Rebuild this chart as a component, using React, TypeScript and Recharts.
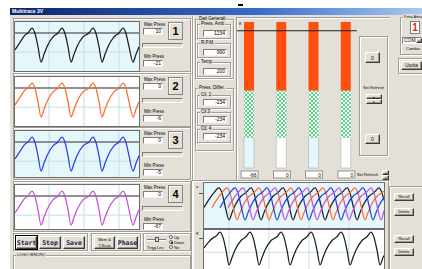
import React from "react";
import { LineChart, Line, XAxis, YAxis, ReferenceLine, BarChart, Bar, Cell } from "recharts";

type Pt = [number, number];

// cylinder trace shown in the four left panels: [position, pressure]
const cylTrace: Pt[] = [
  [0, -10], [5, -3], [10, 3.5], [13, 5.5], [17, 10], [20, 5], [23, -7], [26, -21],
  [29, -14], [32, -7], [38, 2], [43, 5.5], [47, 10], [50, 5], [53, -7], [56, -21],
  [59, -14], [62, -7], [68, 2], [74, 5.5], [78, 10], [81, 5], [84, -7], [87, -21],
  [90, -14], [93, -7], [99, 2], [104, 5.5], [108, 10], [111, 5], [114, -7], [118, -21],
  [121, -14], [124, -7],
];

// overlay traces (bottom right, upper plot), one per cylinder
const ovlCil1: Pt[] = [
  [0, -9], [5, -1], [10, 5.5], [15, 10], [18, 5], [21, -7], [25, -21],
  [28, -14], [31, -7], [37, 2], [42, 5.5], [47, 10], [50, 5], [53, -7], [57, -21],
  [60, -14], [63, -7], [69, 2], [74, 5.5], [79, 10], [82, 5], [85, -7], [89, -21],
  [92, -14], [95, -7], [101, 2], [106, 5.5], [111, 10], [114, 5], [117, -7], [121, -21],
  [124, -14], [127, -7], [133, 2], [138, 5.5], [143, 10], [146, 5], [149, -7], [153, -21],
  [156, -14], [159, -7], [165, 2], [170, 5.5], [175, 10], [178, 5], [180, -2],
];
const ovlCil2: Pt[] = [
  [8, -9], [13, -1], [18, 5.5], [23, 10], [26, 5], [29, -7], [33, -21],
  [36, -14], [39, -7], [45, 2], [50, 5.5], [55, 10], [58, 5], [61, -7], [65, -21],
  [68, -14], [71, -7], [77, 2], [82, 5.5], [87, 10], [90, 5], [93, -7], [97, -21],
  [100, -14], [103, -7], [109, 2], [114, 5.5], [119, 10], [122, 5], [125, -7], [129, -21],
  [132, -14], [135, -7], [141, 2], [146, 5.5], [151, 10], [154, 5], [157, -7], [161, -21],
  [164, -14], [167, -7], [173, 2], [178, 5.5], [180, 7],
];
const ovlCil3: Pt[] = [
  [16, -9], [21, -1], [26, 5.5], [31, 10], [34, 5], [37, -7], [41, -21],
  [44, -14], [47, -7], [53, 2], [58, 5.5], [63, 10], [66, 5], [69, -7], [73, -21],
  [76, -14], [79, -7], [85, 2], [90, 5.5], [95, 10], [98, 5], [101, -7], [105, -21],
  [108, -14], [111, -7], [117, 2], [122, 5.5], [127, 10], [130, 5], [133, -7], [137, -21],
  [140, -14], [143, -7], [149, 2], [154, 5.5], [159, 10], [162, 5], [165, -7], [169, -21],
  [172, -14], [175, -7], [180, 0.5],
];
const ovlCil4: Pt[] = [
  [24, -9], [29, -1], [34, 5.5], [39, 10], [42, 5], [45, -7], [49, -21],
  [52, -14], [55, -7], [61, 2], [66, 5.5], [71, 10], [74, 5], [77, -7], [81, -21],
  [84, -14], [87, -7], [93, 2], [98, 5.5], [103, 10], [106, 5], [109, -7], [113, -21],
  [116, -14], [119, -7], [125, 2], [130, 5.5], [135, 10], [138, 5], [141, -7], [145, -21],
  [148, -14], [151, -7], [157, 2], [162, 5.5], [167, 10], [170, 5], [173, -7], [177, -21],
  [180, -12],
];

// stored reference trace (bottom right, lower plot)
const memTrace: Pt[] = [
  [0, -5], [5, 1], [9, 4.5], [12, 6], [16, 10], [19, 5], [22, -7], [25, -21],
  [28, -14], [31, -7], [37, 2], [42, 5.5], [46, 10], [49, 5], [52, -7], [55, -21],
  [58, -14], [61, -7], [67, 2], [73, 5.5], [77, 10], [80, 5], [83, -7], [86, -21],
  [89, -14], [92, -7], [98, 2], [103, 5.5], [107, 10], [110, 5], [113, -7], [116, -21],
  [119, -14], [122, -7], [128, 2], [133, 5.5], [137, 10], [140, 5], [143, -7], [146, -21],
  [149, -14], [152, -7], [158, 2], [163, 5.5], [167, 10], [170, 5], [173, -7], [176, -21],
  [179, -14], [180, -12],
];

const panelNums = ["1", "2", "3", "4"];
const panelMax = ["10", "0", "0", "0"];
const panelMin = ["-21", "-6", "-5", "-67"];

const barCyl = ["1", "2", "3", "4"];
const barEmpty = [21, 21, 21, 21];
const barGreen = [32, 32, 32, 32];
const barRed = [47, 47, 47, 47];
const barRead = ["-66", "0", "0", "0"];
const barLimit = 94;

const genLabels = ["Press. Amb", "R.P.M.", "Temp"];
const genValues = ["1234", "990", "200"];
const diffLabels = ["Cil. 2", "Cil.3", "Cil. 4"];
const diffValues = ["-234", "-234", "-234"];

const BG = "#e4e0d8";
const TRACE_COLORS = ["#1e1e1e", "#ff6a2a", "#2b3cf0", "#c252d8"];
const CYAN = "#e6f7fb";
const MONO: React.CSSProperties = { fontFamily: "'DejaVu Sans Mono', monospace", fontWeight: 700, fontSize: 6.5, color: "#1a1a40" };

const rows = (pts: Pt[]) => pts.map(([x, p]) => ({ x, p }));

const abs = (x: number, y: number, w: number, h: number, extra: React.CSSProperties = {}): React.CSSProperties => ({
  position: "absolute", left: x, top: y, width: w, height: h, boxSizing: "border-box", ...extra,
});

function Frame({ x, y, w, h, label, size = 5 }: { x: number; y: number; w: number; h: number; label?: string; size?: number }) {
  return (
    <>
      <div style={abs(x, y, w, h, { border: "1px solid #a29e95", boxShadow: "inset 1px 1px 0 #fff, 1px 1px 0 #fff" })} />
      {label && (
        <span style={{ position: "absolute", left: x + 3, top: y - 3, fontSize: size, lineHeight: "6px", background: BG, padding: "0 1px", whiteSpace: "nowrap" }}>
          {label}
        </span>
      )}
    </>
  );
}

function Txt({ x, y, size = 5, children, style }: { x: number; y: number; size?: number; children: React.ReactNode; style?: React.CSSProperties }) {
  return (
    <span style={{ position: "absolute", left: x, top: y, fontSize: size, lineHeight: `${size + 1}px`, whiteSpace: "nowrap", ...style }}>
      {children}
    </span>
  );
}

function Field({ x, y, w, h, value, align = "right" }: { x: number; y: number; w: number; h: number; value: string; align?: "right" | "left" }) {
  return (
    <div style={abs(x, y, w, h, {
      background: "#fff", borderTop: "1px solid #7c7c7c", borderLeft: "1px solid #7c7c7c",
      borderRight: "1px solid #f4f4f4", borderBottom: "1px solid #f4f4f4",
      fontSize: 5, lineHeight: `${h - 2}px`, textAlign: align, paddingRight: 1, paddingLeft: 1,
    })}>{value}</div>
  );
}

function Btn({ x, y, w, h, children, style }: { x: number; y: number; w: number; h: number; children?: React.ReactNode; style?: React.CSSProperties }) {
  return (
    <div style={abs(x, y, w, h, {
      background: BG, borderTop: "1px solid #fff", borderLeft: "1px solid #fff",
      borderRight: "1px solid #3c3c3c", borderBottom: "1px solid #3c3c3c", boxShadow: "inset -1px -1px 0 #9a968e",
      display: "flex", alignItems: "center", justifyContent: "center", fontSize: 5, lineHeight: "6px", textAlign: "center", ...style,
    })}>{children}</div>
  );
}

function Trace({ series, colors, w, h, lo, hi, bg, vGrid, hGrid, darkY }: {
  series: Pt[][]; colors: string[]; w: number; h: number; lo: number; hi: number; bg: string;
  vGrid: number[]; hGrid: number[]; darkY?: number;
}) {
  return (
    <div style={{ width: w, height: h, background: bg }}>
      <LineChart width={w} height={h} margin={{ top: 0, right: 0, bottom: 0, left: 0 }}>
        <XAxis type="number" dataKey="x" domain={[0, w]} hide allowDataOverflow />
        <YAxis type="number" domain={[lo, hi]} hide allowDataOverflow />
        {vGrid.map((v) => <ReferenceLine key={"v" + v} x={v} stroke="#c2e0ea" strokeWidth={1} />)}
        {hGrid.map((v) => <ReferenceLine key={"h" + v} y={v} stroke="#c2e0ea" strokeWidth={1} />)}
        {darkY !== undefined && <ReferenceLine y={darkY} stroke="#6e6e6e" strokeWidth={1.5} />}
        {series.map((s, i) => (
          <Line key={i} data={rows(s)} dataKey="p" type="monotone" stroke={colors[i]} strokeWidth={1.25}
            dot={false} isAnimationActive={false} />
        ))}
      </LineChart>
    </div>
  );
}

const PANEL_TOP = [18, 73, 127, 181];
const PANEL_H = [54, 54, 53, 51];
const CHART_H = [49, 49, 46, 44];

function BarTick({ x, y, payload }: any) {
  const i = barCyl.indexOf(payload.value);
  return (
    <g>
      <rect x={x - 8} y={y + 3} width={17} height={7} fill="#fff" stroke="#7c7c7c" strokeWidth={0.8} />
      <text x={x + 7.5} y={y + 8.6} fontSize={5} textAnchor="end" fill="#000">{barRead[i]}</text>
    </g>
  );
}

export default function App() {
  const barRows = barCyl.map((c, i) => ({ c, e: barEmpty[i], g: barGreen[i], r: barRed[i] }));
  return (
    <div style={{ position: "fixed", left: 0, top: 0, width: 422, height: 269, overflow: "hidden", background: "#fff", fontFamily: "'Liberation Sans', Arial, sans-serif", color: "#000" }}>
      <svg width={0} height={0} style={{ position: "absolute" }}>
        <defs>
          <pattern id="chk" width={4} height={4} patternUnits="userSpaceOnUse">
            <rect width={4} height={4} fill="#fff" />
            <rect width={2} height={2} fill="#58d684" />
            <rect x={2} y={2} width={2} height={2} fill="#58d684" />
          </pattern>
        </defs>
      </svg>

      {/* window */}
      <div style={abs(10, 8, 412, 261, { background: BG })} />
      <div style={abs(10, 8, 412, 7, { background: "linear-gradient(90deg,#0a246a,#3a6cc8 60%,#a6caf0)" })}>
        <span style={{ position: "absolute", left: 2, top: 0, fontSize: 5, lineHeight: "7px", color: "#fff", fontWeight: 700 }}>Multitrace 3V</span>
      </div>
      <div style={abs(238, 4, 5, 2, { background: "#000" })} />
      <div style={abs(192, 16, 1, 253, { background: "#a29e95", boxShadow: "1px 0 0 #fff" })} />

      {/* left: four cylinder panels */}
      {panelNums.map((n, i) => {
        const t = PANEL_TOP[i];
        const ch = CHART_H[i];
        const hi = 15.5;
        const lo = hi - ch * 0.912;
        return (
          <React.Fragment key={n}>
            <Frame x={13} y={t} w={178} h={PANEL_H[i]} />
            <div style={abs(14, t + 3, 126, ch + 2, { border: "1px solid #6d6d6d" })}>
              <Trace series={[cylTrace]} colors={[TRACE_COLORS[i]]} w={124} h={ch} lo={lo} hi={hi}
                bg={i % 2 === 0 ? CYAN : "#fff"} vGrid={[34, 69, 104]} hGrid={[-12]} darkY={5.5} />
            </div>
            <Txt x={144} y={t + 4} size={4.5}>Max Press</Txt>
            <Field x={143} y={t + 10} w={20} h={7} value={panelMax[i]} />
            <div style={abs(168, t + 4, 15, 18, { border: "1px solid #8a867e", boxShadow: "inset 1px 1px 0 #fff", fontSize: 11, fontWeight: 700, lineHeight: "16px", textAlign: "center" })}>{n}</div>
            <div style={abs(142, t + 25, 41, 5, { borderTop: "1px solid #7c7c7c", borderLeft: "1px solid #7c7c7c", borderRight: "1px solid #fff", borderBottom: "1px solid #fff" })} />
            <Txt x={144} y={t + 36} size={4.5}>Min Press</Txt>
            <Field x={143} y={t + 42} w={20} h={7} value={panelMin[i]} />
          </React.Fragment>
        );
      })}

      {/* command buttons */}
      <Frame x={13} y={233} w={75} h={18} />
      <Btn x={16} y={236} w={21} h={13} style={{ ...MONO, outline: "1px solid #000" }}>Start</Btn>
      <Btn x={39} y={236} w={22} h={13} style={MONO}>Stop</Btn>
      <Btn x={63} y={236} w={22} h={13} style={MONO}>Save</Btn>
      <Frame x={91} y={233} w={50} h={18} />
      <Btn x={94} y={236} w={21} h={13} style={{ fontSize: 4 }}>Mem &amp;<br />T.Scan</Btn>
      <Btn x={117} y={236} w={21} h={13} style={MONO}>Phase</Btn>
      <Frame x={143} y={233} w={48} h={18} />
      <div style={abs(147, 239, 19, 2, { borderTop: "1px solid #7c7c7c", borderBottom: "1px solid #fff" })} />
      <div style={abs(155, 237, 4, 5, { background: BG, border: "1px solid #555" })} />
      <Txt x={147} y={245} size={4}>Trigg Lev</Txt>
      {["Up", "Down", "No"].map((r, k) => (
        <React.Fragment key={r}>
          <div style={abs(169, 235 + k * 5, 4, 4, { borderRadius: 2, border: "1px solid #666", background: "#fff" })}>
            {k === 1 && <div style={abs(1, 1, 2, 2, { borderRadius: 1, background: "#000", left: 0.5, top: 0.5 })} />}
          </div>
          <Txt x={174} y={234.5 + k * 5} size={4}>{r}</Txt>
        </React.Fragment>
      ))}
      <Frame x={13} y={255} w={178} h={20} label="LOGO SINCRO" size={4} />

      {/* general data */}
      <Frame x={195} y={19} w={39} h={60} label="Dati Generali" size={4.5} />
      {genLabels.map((l, k) => (
        <React.Fragment key={l}>
          <Frame x={197} y={24 + k * 19} w={34} h={15} label={l} size={4.5} />
          <Field x={203} y={30 + k * 19} w={24} h={7} value={genValues[k]} />
        </React.Fragment>
      ))}
      <Frame x={195} y={88} w={39} h={63} label="Press. Differ." size={4.5} />
      {diffLabels.map((l, k) => (
        <React.Fragment key={l}>
          <Frame x={197} y={95 + k * 17} w={34} h={14} label={l} size={4.5} />
          <Field x={203} y={99 + k * 17} w={24} h={7} value={diffValues[k]} />
        </React.Fragment>
      ))}

      {/* bar gauges */}
      <div style={abs(236, 17, 154, 164, { borderTop: "1px solid #a29e95", borderLeft: "1px solid #a29e95", boxShadow: "inset 1px 1px 0 #fff" })} />
      <div style={abs(237, 18, 120, 162, { overflow: "hidden" })}>
        <div style={{ position: "absolute", left: -4, top: 0 }}>
          <BarChart width={129} height={162} data={barRows} margin={{ top: 4, right: 0, bottom: 0, left: 0 }} barSize={10}>
            <XAxis dataKey="c" height={12} tickLine={false} axisLine={false} tickSize={0} tickMargin={0} tick={<BarTick />} interval={0} />
            <YAxis hide domain={[0, 100]} />
            <Bar dataKey="e" stackId="a" isAnimationActive={false} stroke="#b0b0b0" strokeWidth={0.6}>
              {barRows.map((_, i) => <Cell key={i} fill={i % 2 === 0 ? CYAN : "#fff"} />)}
            </Bar>
            <Bar dataKey="g" stackId="a" fill="url(#chk)" isAnimationActive={false} />
            <Bar dataKey="r" stackId="a" fill="#ff4f10" isAnimationActive={false} />
            <ReferenceLine y={barLimit} stroke="#222" strokeWidth={1} />
          </BarChart>
        </div>
      </div>
      <Txt x={239} y={21} size={4}>8</Txt>
      <Txt x={357} y={172} size={4}>Set Refresh</Txt>
      <Btn x={382} y={170} w={7} h={5} style={{ fontSize: 3 }}>▴</Btn>
      <Btn x={382} y={175} w={7} h={5} style={{ fontSize: 3 }}>▾</Btn>

      <Frame x={359} y={36} w={29} h={120} />
      <Btn x={365} y={52} w={15} h={11}>0</Btn>
      <Txt x={363} y={85} size={4}>Set Refresh</Txt>
      <Btn x={366} y={94} w={16} h={5} style={{ fontSize: 3 }}>▴</Btn>
      <Btn x={366} y={99} w={16} h={5} style={{ fontSize: 3 }}>▾</Btn>
      <Btn x={365} y={134} w={15} h={10}>0</Btn>

      {/* port selection */}
      <Frame x={400} y={17} w={30} h={38} label="Porta Attiva" size={3.6} />
      <div style={abs(410, 21, 10, 13, { background: "#fff", border: "1px solid #7c7c7c", color: "#e02020", fontWeight: 700, fontSize: 10, lineHeight: "11px", textAlign: "center" })}>1</div>
      <Field x={402} y={37} w={20} h={7} value="COM1" align="left" />
      <Btn x={416} y={38} w={6} h={5} style={{ fontSize: 3 }}>▾</Btn>
      <Txt x={406} y={46} size={4}>Cambia</Txt>
      <Frame x={398} y={58} w={30} h={16} />
      <Btn x={401} y={61} w={21} h={9} style={{ fontSize: 4.5 }}>Uscita</Btn>

      {/* overlay + stored trace */}
      <Frame x={191} y={180} w={198} h={95} />
      <Txt x={196} y={184} size={4}>a</Txt>
      <div style={abs(199, 193, 5, 1, { background: "#555" })} />
      <Txt x={196} y={230} size={4}>g</Txt>
      <div style={abs(199, 238, 5, 1, { background: "#555" })} />
      <div style={abs(203, 182, 182, 47, { border: "1px solid #6d6d6d" })}>
        <Trace series={[ovlCil1, ovlCil2, ovlCil3, ovlCil4]} colors={TRACE_COLORS} w={180} h={45} lo={-28.8} hi={14.8}
          bg={CYAN} vGrid={[25, 65, 105, 145]} hGrid={[]} />
      </div>
      <div style={abs(203, 228, 182, 2, { background: "#6b6b6b" })} />
      <div style={abs(203, 230, 182, 46, { border: "1px solid #6d6d6d", borderTop: "none" })}>
        <Trace series={[memTrace]} colors={[TRACE_COLORS[0]]} w={180} h={44} lo={-29.5} hi={11.9}
          bg="#fff" vGrid={[25, 65, 105, 145]} hGrid={[-9]} />
      </div>
      <Frame x={389} y={186} w={40} h={90} />
      <Btn x={394} y={193} w={20} h={8} style={{ fontSize: 4 }}>Recall</Btn>
      <Btn x={394} y={208} w={20} h={8} style={{ fontSize: 4 }}>Delete</Btn>
      <Btn x={394} y={235} w={20} h={8} style={{ fontSize: 4 }}>Recall</Btn>
      <Btn x={394} y={248} w={20} h={8} style={{ fontSize: 4 }}>Delete</Btn>
    </div>
  );
}
